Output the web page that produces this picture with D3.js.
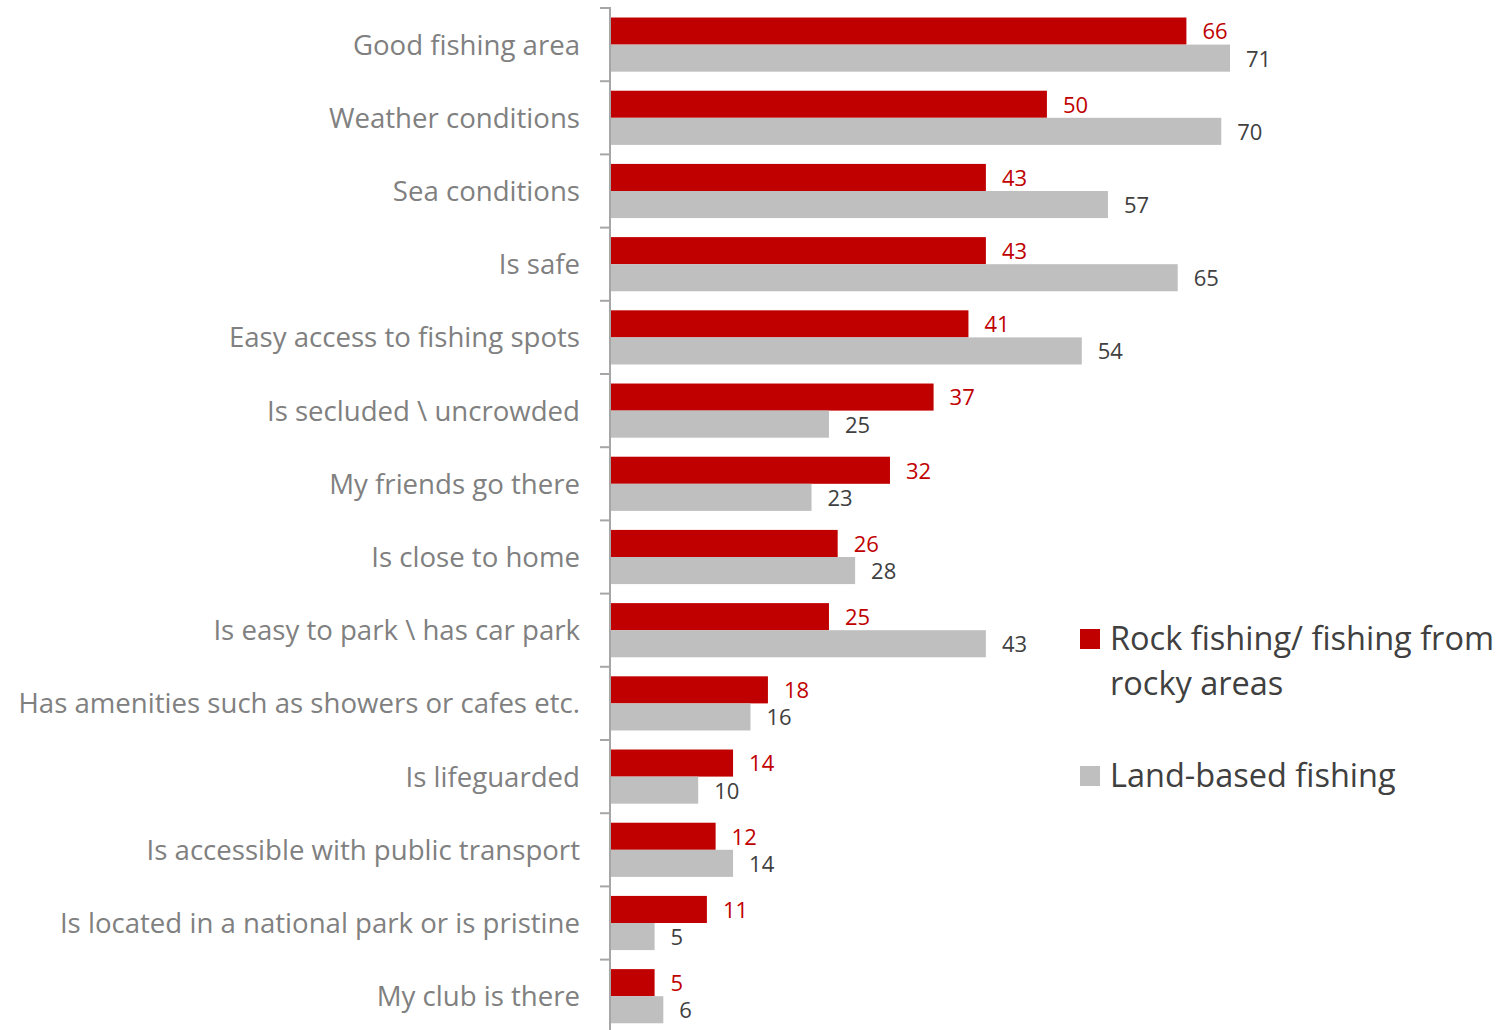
<!DOCTYPE html>
<html><head><meta charset="utf-8">
<script src="https://cdn.jsdelivr.net/npm/d3@7"></script>
<style>body{margin:0;background:#fff}svg{display:block}</style>
</head><body>
<svg id="c" width="1505" height="1030"></svg>
<script>
const categories = ["Good fishing area","Weather conditions","Sea conditions","Is safe","Easy access to fishing spots","Is secluded \\ uncrowded","My friends go there","Is close to home","Is easy to park \\ has car park","Has amenities such as showers or cafes etc.","Is lifeguarded","Is accessible with public transport","Is located in a national park or is pristine","My club is there"];
const rockValues = [66,50,43,43,41,37,32,26,25,18,14,12,11,5];
const landValues = [71,70,57,65,54,25,23,28,43,16,10,14,5,6];
const seriesNames = ["Rock fishing/ fishing from rocky areas","Land-based fishing"];
const colors = ["#c00000","#bfbfbf"];
const labelColors = ["#c00000","#404040"];

const svg = d3.select("#c");
const font = "Open Sans, sans-serif";
const x = d3.scaleLinear().domain([0,71]).range([611,1230]);
const y = d3.scaleBand().domain(categories).range([8, 8+73.2*14]).paddingInner(0.26).paddingOuter(0.13);
const sub = d3.scaleBand().domain([0,1]).range([0, y.bandwidth()]);

// bars
const g = svg.append("g");
categories.forEach((c,i)=>{
  [rockValues[i], landValues[i]].forEach((v,s)=>{
    g.append("rect").attr("x", x(0)).attr("y", y(c)+sub(s)).attr("width", x(v)-x(0)).attr("height", sub.bandwidth()).attr("fill", colors[s]);
    g.append("text").attr("x", x(v)+16).attr("y", y(c)+sub(s)+sub.bandwidth()/2).attr("dy","0.38em")
      .attr("font-family",font).attr("font-size",22).attr("fill",labelColors[s]).text(v);
  });
});

// axis
const step = y.step();
const ax = svg.append("g");
ax.append("line").attr("x1",610).attr("x2",610).attr("y1",8).attr("y2",1030).attr("stroke","#a6a6a6").attr("stroke-width",2);
d3.range(categories.length+1).forEach(k=>{
  const yy = 8 + k*step;
  ax.append("line").attr("x1",600).attr("x2",611).attr("y1",yy).attr("y2",yy).attr("stroke","#a6a6a6").attr("stroke-width",2);
});
categories.forEach(c=>{
  ax.append("text").attr("x",580).attr("y",y(c)+y.bandwidth()/2).attr("dy","0.36em").attr("text-anchor","end")
    .attr("font-family",font).attr("font-size",27.6).attr("fill","#808080").text(c);
});

// legend
const lg = svg.append("g").attr("font-family",font).attr("font-size",32.5).attr("fill","#404040");
lg.append("rect").attr("x",1080).attr("y",629).attr("width",20).attr("height",20).attr("fill",colors[0]);
lg.append("text").attr("x",1110).attr("y",650).text("Rock fishing/ fishing from");
lg.append("text").attr("x",1110).attr("y",695).text("rocky areas");
lg.append("rect").attr("x",1080).attr("y",766).attr("width",20).attr("height",20).attr("fill",colors[1]);
lg.append("text").attr("x",1110).attr("y",787).text(seriesNames[1]);
</script>
</body></html>
